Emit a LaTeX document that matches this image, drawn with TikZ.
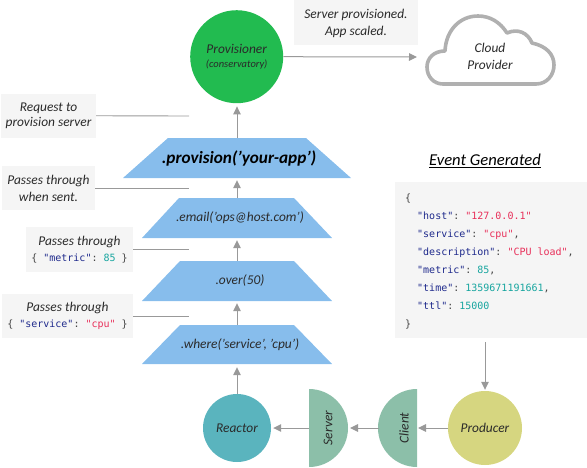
\documentclass[tikz,border=0pt]{standalone}
\usepackage{fontspec}
\setmainfont{Carlito}
\setmonofont{DejaVu Sans Mono}
\usetikzlibrary{arrows.meta}
\definecolor{arrowgray}{HTML}{999999}
\definecolor{boxgray}{HTML}{F5F5F5}
\definecolor{inkc}{HTML}{2A2A2A}
\definecolor{keyc}{HTML}{1F2A8C}
\definecolor{strc}{HTML}{E8305A}
\definecolor{numc}{HTML}{17A59F}
\definecolor{punc}{HTML}{444444}
\definecolor{trapblue}{HTML}{87BDEC}
\definecolor{halfgreen}{HTML}{8CBFA9}
\definecolor{provgreen}{HTML}{22BB50}
\definecolor{reacteal}{HTML}{5AB4BE}
\definecolor{prodyel}{HTML}{D6D680}
\definecolor{cloudgray}{HTML}{B0B0B0}
\newcommand{\jkey}[1]{\textcolor{keyc}{"#1"}}
\newcommand{\jstr}[1]{\textcolor{strc}{"#1"}}
\newcommand{\jnum}[1]{\textcolor{numc}{#1}}
\newcommand{\jline}{\fontsize{10}{12}\selectfont\upshape\ttfamily\color{punc}}
\tikzset{
  x=1pt,y=-1pt,
  txt/.style={font=\fontsize{13.4}{17}\selectfont\itshape,text=inkc,align=center},
  flow/.style={draw=arrowgray,line width=1pt,-{Triangle[length=8pt,width=7.5pt]}},
  leader/.style={draw=arrowgray,line width=0.9pt},
  notebox/.style={fill=boxgray,txt,inner sep=0pt},
  traptext/.style={txt,inner sep=0pt,minimum height=40pt,minimum width=100pt},
  trapfill/.style={fill=trapblue},
  disc/.style={circle,inner sep=0pt,txt},
  halfdisc/.style={fill=halfgreen},
  code/.style={font=\fontsize{10}{18}\selectfont\ttfamily,text=punc,align=left}
}
\begin{document}
\begin{tikzpicture}
\useasboundingbox (0,0) rectangle (587,467);
% discs
\node[disc,fill=provgreen,minimum size=93pt] (prov) at (236.7,56.7) {\raisebox{-3.5pt}{Provisioner}\\[-1pt]{\fontsize{10.5}{13}\selectfont\raisebox{-1.5pt}{(conservatory)}}};
\node[disc,fill=reacteal,minimum size=68pt] (reactor) at (237,428) {Reactor};
\node[disc,fill=prodyel,minimum size=74pt] (producer) at (485,428) {Producer};
% half discs
\fill[halfdisc] (309,389) arc[start angle=90,end angle=-90,radius=39pt] -- cycle;
\fill[halfdisc] (417,389) arc[start angle=90,end angle=270,radius=39pt] -- cycle;
\coordinate (serverflat) at (309,428);
\coordinate (serverround) at (348,428);
\coordinate (clientflat) at (417,428);
\coordinate (clientround) at (379,428);
\node[txt,rotate=90] (servertext) at (328,428) {Server};
\node[txt,rotate=90] (clienttext) at (404,428) {Client};
% filters
\fill[trapfill] (168,138) -- (306,138) -- (351,178) -- (123,178) -- cycle;
\fill[trapfill] (179,198) -- (294,198) -- (332,238) -- (142,238) -- cycle;
\fill[trapfill] (180,261) -- (294,261) -- (332,301) -- (142,301) -- cycle;
\fill[trapfill] (180,325) -- (294,325) -- (332,364) -- (142,364) -- cycle;
\node[traptext,font=\fontsize{17.2}{18}\selectfont\itshape\bfseries,text=black] (fprov) at (239,158) {.provision('your-app')};
\node[traptext] (femail) at (240,218) {.email('ops@host.com')};
\node[traptext] (fover) at (240,281) {.over(50)};
\node[traptext,minimum height=39pt] (fwhere) at (240,344.5) {.where('service', 'cpu')};
% note boxes
\node[notebox,minimum width=95pt,minimum height=43.5pt] (nreq) at (48.5,115.75) {\raisebox{-1.5pt}{Request to}\\provision server};
\node[notebox,minimum width=93pt,minimum height=44pt] (nsent) at (48.5,188) {Passes through\\when sent.};
\node[notebox,minimum width=107pt,minimum height=45pt] (nmetric) at (79.5,249.5) {\raisebox{-1.5pt}{Passes through}\\[1pt]{\jline\{ \jkey{metric}: \jnum{85} \}}};
\node[notebox,minimum width=131pt,minimum height=44pt] (nservice) at (67.5,316) {\raisebox{-1.5pt}{Passes through}\\[1pt]{\jline\{ \jkey{service}: \jstr{cpu} \}}};
\node[notebox,minimum width=124pt,minimum height=44pt] (ndone) at (356,23) {Server provisioned.\\App scaled.};
\fill[boxgray] (294,0) rectangle (418,2);
% leader ends
\coordinate (lreq) at (189,116);
\coordinate (lsent) at (189,188);
\coordinate (lmetric) at (189,249.5);
\coordinate (lservice) at (189,316);
\draw[leader] (nreq.east) -- (lreq);
\draw[leader] (nsent.east) -- (lsent);
\draw[leader] (nmetric.east) -- (lmetric);
\draw[leader] (nservice.east) -- (lservice);
% cloud
\draw[draw=cloudgray,line width=3.6pt,fill=white,line join=round]
 (443,84) -- (536,84)
 .. controls (547,84) and (554,75) .. (554,65)
 .. controls (554,54) and (546,46) .. (532,43)
 .. controls (528,33) and (518,28) .. (507,33)
 .. controls (500,22) and (490,16) .. (478,16)
 .. controls (460,16) and (446,30) .. (445,51)
 .. controls (434,51) and (427,58) .. (427,67)
 .. controls (427,77) and (434,84) .. (443,84) -- cycle;
\node[txt] (cloudtext) at (490,56) {Cloud\\Provider};
\coordinate (cloudedge) at (417,57);
% event
\node[txt,font=\fontsize{16.6}{20}\selectfont\itshape,text=black] (evtitle) at (485,161) {\underline{Event Generated}};
\node[fill=boxgray,minimum width=192pt,minimum height=156pt,inner sep=0pt] (evbox) at (491,260) {};
\node[code,anchor=north west,inner sep=0pt] (evtext) at (405,193.5) {\{\\
\hspace*{12pt}\jkey{host}: \jstr{127.0.0.1}\\
\hspace*{12pt}\jkey{service}: \jstr{cpu},\\
\hspace*{12pt}\jkey{description}: \jstr{CPU load},\\
\hspace*{12pt}\jkey{metric}: \jnum{85},\\
\hspace*{12pt}\jkey{time}: \jnum{1359671191661},\\
\hspace*{12pt}\jkey{ttl}: \jnum{15000}\\
\}};
\coordinate (evout) at (485,342);
% connectors
\draw[flow,shorten >=1pt] (producer.west) -- (clientflat);
\draw[flow,shorten >=2pt] (clientround) -- (serverround);
\draw[flow,shorten >=2pt] (serverflat) -- (reactor.east);
\draw[flow,shorten >=3pt] (reactor.north) -- (fwhere.south -| reactor.north);
\draw[flow,shorten >=2pt] (fwhere.north -| reactor.north) -- (fover.south -| reactor.north);
\draw[flow,shorten >=2pt] (fover.north -| reactor.north) -- (femail.south -| reactor.north);
\draw[flow,shorten >=2pt] (femail.north -| reactor.north) -- (fprov.south -| reactor.north);
\draw[flow,shorten >=3pt] (fprov.north -| reactor.north) -- (prov.south -| reactor.north);
\draw[flow] (prov.east) -- (cloudedge);
\draw[flow,shorten >=1pt] (evout) -- (producer.north);
\end{tikzpicture}
\end{document}
